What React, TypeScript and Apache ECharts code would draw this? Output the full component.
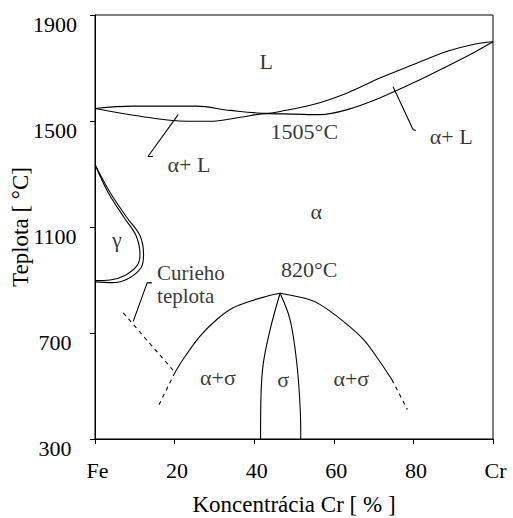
import React, { useEffect, useRef } from "react";
import * as echarts from "echarts";

// ---- data (x = % Cr, y = temperature °C) ----
const xTickValues = [0, 20, 40, 60, 80, 100];
const xTickNames = ["Fe", "20", "40", "60", "80", "Cr"];
const yTicks = [300, 700, 1100, 1500, 1900];

const liquidus = [[0, 1547], [9.6, 1556], [25.6, 1556], [33.9, 1540], [43.3, 1529], [46.5, 1536], [54.8, 1562], [63.4, 1606], [71.7, 1663], [80, 1713], [88.5, 1763], [95, 1789], [100, 1799]];
const solidus = [[0, 1547], [9.6, 1522], [23.1, 1499], [28.9, 1499], [36.5, 1514], [43.3, 1528], [50, 1526], [56.6, 1524], [63.4, 1543], [71.7, 1588], [80, 1644], [88.5, 1707], [95, 1757], [100, 1799]];
const gammaOuter = [[0, 1336], [3.8, 1230], [8.0, 1136], [11.3, 1068], [12.2, 996], [11.6, 947], [8.3, 905], [4.3, 890], [0, 893]];
const gammaInner = [[0, 1336], [3.3, 1230], [7.3, 1136], [10.3, 1068], [11.3, 996], [10.6, 955], [7.5, 917], [3.8, 900], [0, 898]];
const solvusLeft = [[20.1, 551], [22.1, 600], [26.4, 688], [30.6, 751], [34.7, 795], [39.0, 820], [43.2, 839], [46.5, 850]];
const solvusRight = [[46.5, 850], [53.2, 829], [56.6, 807], [62.4, 744], [67.5, 675], [71.2, 600], [74.6, 524]];
const solvusLeftDashed = [[20.1, 551], [15.9, 424]];
const solvusRightDashed = [[74.6, 524], [78.5, 411]];
const curieLine = [[7.1, 776], [20.1, 551]];
const sigmaLeft = [[46.5, 850], [44.0, 713], [42.3, 587], [41.7, 461], [41.6, 300]];
const sigmaRight = [[46.5, 850], [49.0, 751], [50.7, 587], [51.6, 399], [51.7, 300]];
const pointerLeftAL = [[20.9, 1524], [13.3, 1366], [14.6, 1366]];
const pointerRightAL = [[74.9, 1629], [79.9, 1468], [80.6, 1464]];
const pointerCurie = [[14.3, 889], [13.1, 889], [9.6, 744]];

const labelTexts = ["L", "1505°C", "α+ L", "α+ L", "α", "γ", "820°C", "α+σ", "σ", "α+σ"];
const labelX = [43.0, 52.6, 23.6, 89.5, 55.6, 5.5, 53.8, 30.9, 47.3, 64.4];
const labelY = [1725, 1460, 1336, 1441, 1158, 1053, 940, 532, 525, 528];
const curieTexts = ["Curieho", "teplota"];
const curieX = [15.6, 15.6];
const curieY = [928, 838];

const FONT = "'Liberation Serif', 'Times New Roman', serif";

export default function App() {
  const ref = useRef<HTMLDivElement>(null);
  useEffect(() => {
    document.body.style.margin = "0";
    if (!ref.current) return;
    const chart = echarts.init(ref.current, undefined, { renderer: "svg" });
    const line = (data: number[][], dashed = false, smooth: number | boolean = 0.35) => ({
      type: "line",
      data,
      symbol: "none",
      smooth,
      silent: true,
      lineStyle: { color: "#000", width: 1.1, type: dashed ? [4, 4] : "solid" },
    });
    const annData: any[] = labelTexts.map((t, i) => ({ value: [labelX[i], labelY[i]], name: t }));
    curieTexts.forEach((t, i) =>
      annData.push({
        value: [curieX[i], curieY[i]],
        name: t,
        label: { align: "left", fontSize: 21, lineHeight: 20 },
      })
    );
    chart.setOption({
      animation: false,
      grid: {
        left: 95,
        right: 20,
        top: 15,
        bottom: 79,
        show: true,
        borderColor: "#000",
        borderWidth: 1,
        outerBoundsMode: "none",
        containLabel: false,
      },
      xAxis: {
        type: "value",
        min: 0,
        max: 100,
        interval: 20,
        name: "Koncentrácia Cr [ % ]",
        nameLocation: "middle",
        nameGap: 54,
        nameMoveOverlap: false,
        nameTextStyle: { fontFamily: FONT, fontSize: 23, color: "#000" },
        axisLine: { lineStyle: { color: "#000" } },
        axisTick: { show: true, length: 5, lineStyle: { color: "#000" } },
        splitLine: { show: false },
        axisLabel: {
          fontFamily: FONT,
          fontSize: 22,
          color: "#000",
          margin: 20,
          padding: [0, 0, 0, 5],
          formatter: (v: number) => {
            const i = xTickValues.indexOf(v);
            return i >= 0 ? xTickNames[i] : String(v);
          },
        },
      },
      yAxis: {
        type: "value",
        min: yTicks[0],
        max: yTicks[yTicks.length - 1],
        interval: 400,
        name: "Teplota [ °C]",
        nameLocation: "middle",
        nameGap: 63,
        nameMoveOverlap: false,
        nameRotate: 90,
        nameTextStyle: { fontFamily: FONT, fontSize: 23, color: "#000" },
        axisLine: { show: true, lineStyle: { color: "#000" } },
        axisTick: { show: true, length: 5, lineStyle: { color: "#000" } },
        splitLine: { show: false },
        axisLabel: {
          fontFamily: FONT,
          fontSize: 22,
          color: "#000",
          margin: 40,
          align: "center",
          verticalAlign: "top",
          lineHeight: 18,
          formatter: (v: number) => String(v),
        },
      },
      series: [
        line(liquidus),
        line(solidus),
        line(gammaOuter),
        line(gammaInner),
        line(solvusLeft),
        line(solvusRight),
        line(solvusLeftDashed, true, false),
        line(solvusRightDashed, true, false),
        line(curieLine, true, false),
        line(sigmaLeft),
        line(sigmaRight),
        line(pointerLeftAL, false, false),
        line(pointerRightAL, false, false),
        line(pointerCurie, false, false),
        {
          type: "scatter",
          data: annData,
          symbol: "circle",
          symbolSize: 1,
          silent: true,
          itemStyle: { color: "transparent" },
          label: {
            show: true,
            position: "inside",
            formatter: (p: any) => p.name,
            fontFamily: FONT,
            fontSize: 22,
            color: "#000",
          },
        },
      ],
    });
    return () => chart.dispose();
  }, []);
  return <div ref={ref} style={{ width: 513, height: 518 }} />;
}
